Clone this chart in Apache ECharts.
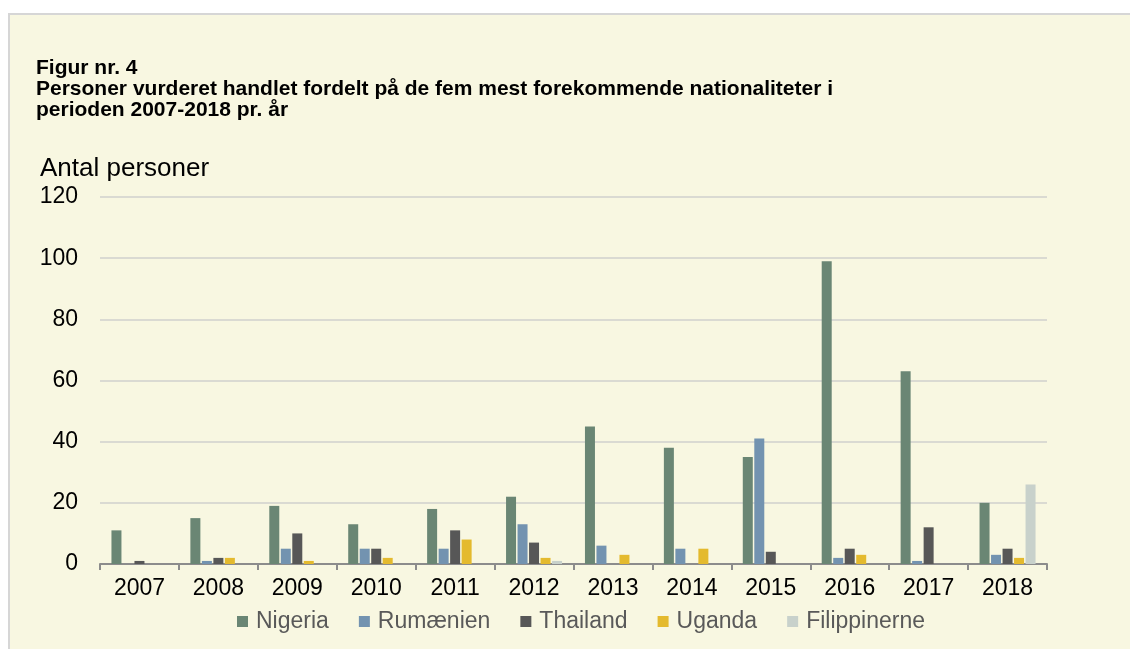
<!DOCTYPE html>
<html>
<head>
<meta charset="utf-8">
<script src="https://cdn.jsdelivr.net/npm/echarts@6/dist/echarts.min.js"></script>
<style>
  html, body { margin: 0; padding: 0; background: #fff; }
  #panel {
    position: absolute; left: 8px; top: 13px; width: 1122px; height: 636px;
    background: #f8f7e1; border-top: 2px solid #d6d6d6; border-left: 2px solid #d6d6d6;
  }
  #chart { position: absolute; left: 0; top: 0; width: 1130px; height: 649px; }
</style>
</head>
<body>
<div id="panel"></div>
<div id="chart"></div>
<script>
const years = ["2007", "2008", "2009", "2010", "2011", "2012", "2013", "2014", "2015", "2016", "2017", "2018"];
const nigeria = [11, 15, 19, 13, 18, 22, 45, 38, 35, 99, 63, 20];
const rumaenien = [0, 1, 5, 5, 5, 13, 6, 5, 41, 2, 1, 3];
const thailand = [1, 2, 10, 5, 11, 7, 0, 0, 4, 5, 12, 5];
const uganda = [0, 2, 1, 2, 8, 2, 3, 5, 0, 3, 0, 2];
const filippinerne = [0, 0, 0, 0, 0, 1, 0, 0, 0, 0, 0, 26];
const yTicks = [0, 20, 40, 60, 80, 100, 120];

const font = "Liberation Sans, Arial, Helvetica, sans-serif";

const mkSeries = (name, data, color) => ({
  name: name,
  type: "bar",
  data: data,
  barWidth: 10,
  barGap: "15%",
  itemStyle: { color: color }
});

const chart = echarts.init(document.getElementById("chart"), null, { renderer: "canvas" });

chart.setOption({
  backgroundColor: "transparent",
  animation: false,
  textStyle: { fontFamily: font },
  title: {
    text: "Figur nr. 4\nPersoner vurderet handlet fordelt på de fem mest forekommende nationaliteter i\nperioden 2007-2018 pr. år",
    left: 31,
    top: 53,
    textStyle: { fontFamily: font, fontSize: 21, fontWeight: "bold", color: "#000", lineHeight: 21 }
  },
  legend: {
    top: 605,
    left: 232,
    itemWidth: 11,
    itemHeight: 11,
    itemGap: 30,
    icon: "rect",
    textStyle: { fontFamily: font, fontSize: 23, color: "#595959", padding: [0, 0, 0, 3] },
    data: ["Nigeria", "Rumænien", "Thailand", "Uganda", "Filippinerne"]
  },
  grid: { left: 100, right: 83, top: 197, bottom: 85 },
  xAxis: {
    type: "category",
    data: years,
    axisLine: { lineStyle: { color: "#8c8c8c", width: 2 } },
    axisTick: { show: true, length: 6, lineStyle: { color: "#8c8c8c", width: 2 } },
    axisLabel: { fontSize: 23, color: "#000", margin: 13 }
  },
  yAxis: {
    type: "value",
    name: "Antal personer",
    nameLocation: "end",
    nameGap: 15,
    nameTextStyle: { fontSize: 26, color: "#000", align: "left", padding: [0, 0, 0, -60] },
    min: yTicks[0],
    max: yTicks[yTicks.length - 1],
    interval: 20,
    axisLine: { show: false },
    axisTick: { show: false },
    splitLine: { lineStyle: { color: "#dadad2", width: 2 } },
    axisLabel: { fontSize: 23, color: "#000", margin: 22 }
  },
  series: [
    mkSeries("Nigeria", nigeria, "#6a8674"),
    mkSeries("Rumænien", rumaenien, "#7393b0"),
    mkSeries("Thailand", thailand, "#575757"),
    mkSeries("Uganda", uganda, "#e4ba2e"),
    mkSeries("Filippinerne", filippinerne, "#c8d1cb")
  ]
});
</script>
</body>
</html>
